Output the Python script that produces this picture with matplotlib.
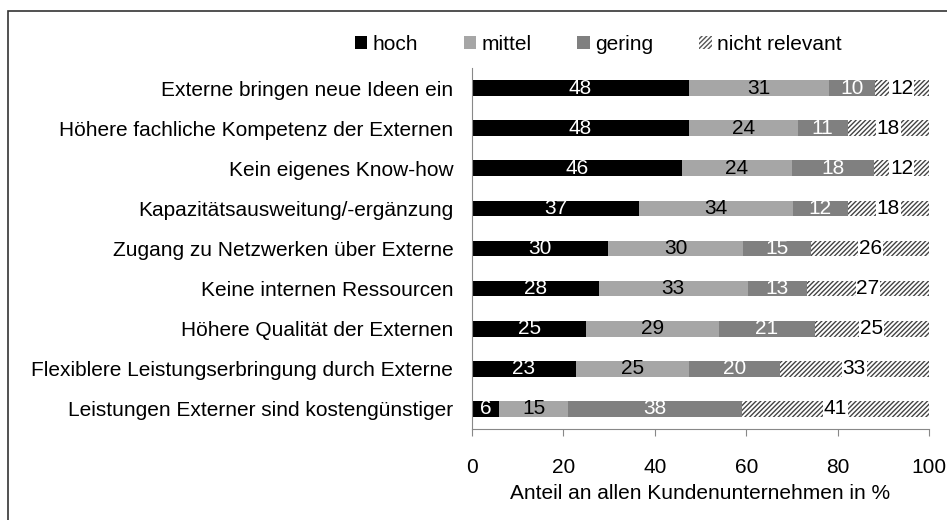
import matplotlib
matplotlib.use("Agg")
import matplotlib.pyplot as plt
from matplotlib.patches import Rectangle, Patch
import numpy as np

plt.rcParams["font.family"] = ["Liberation Sans", "DejaVu Sans"]
plt.rcParams["hatch.linewidth"] = 1.0
plt.rcParams["hatch.color"] = "#444444"

categories = [
    "Externe bringen neue Ideen ein",
    "Höhere fachliche Kompetenz der Externen",
    "Kein eigenes Know-how",
    "Kapazitätsausweitung/-ergänzung",
    "Zugang zu Netzwerken über Externe",
    "Keine internen Ressourcen",
    "Höhere Qualität der Externen",
    "Flexiblere Leistungserbringung durch Externe",
    "Leistungen Externer sind kostengünstiger",
]
hoch = [48, 48, 46, 37, 30, 28, 25, 23, 6]
mittel = [31, 24, 24, 34, 30, 33, 29, 25, 15]
gering = [10, 11, 18, 12, 15, 13, 21, 20, 38]
nicht_relevant = [12, 18, 12, 18, 26, 27, 25, 33, 41]

series = [
    ("hoch", hoch, "black", None, "white"),
    ("mittel", mittel, "#a6a6a6", None, "black"),
    ("gering", gering, "#808080", None, "white"),
    ("nicht relevant", nicht_relevant, "white", "///////", "black"),
]

raw = np.array([hoch, mittel, gering, nicht_relevant], dtype=float)
# Die Balken sind auf 100 % normiert (Rundungssummen liegen bei 101).
shares = raw / raw.sum(axis=0) * 100

FS = 15

fig = plt.figure(figsize=(9.47, 5.2), dpi=100)
ax = fig.add_axes([472 / 947, 1 - 429 / 520, 457 / 947, 361 / 520])

y = np.arange(len(categories))
left = np.zeros(len(categories))
for (name, vals, color, hatch, tcolor), width in zip(series, shares):
    ax.barh(y, width, left=left, height=0.39, color=color,
            hatch=hatch, edgecolor="#444444" if hatch else color,
            linewidth=0)
    for yi, (l, w, v) in enumerate(zip(left, width, vals)):
        kw = {}
        if hatch:
            kw["bbox"] = dict(facecolor="white", edgecolor="none", pad=0.6)
        ax.text(l + w / 2, yi, str(v), ha="center", va="center",
                color=tcolor, fontsize=FS, **kw)
    left += width

ax.set_xlim(0, 100)
ax.set_ylim(len(categories) - 0.5, -0.5)
ax.set_yticks(y)
ax.set_yticklabels(categories, fontsize=FS)
ax.tick_params(axis="y", length=0, pad=13.5)
ax.set_xticks([0, 20, 40, 60, 80, 100])
ax.tick_params(axis="x", direction="out", length=5, color="#888888",
               labelsize=FS, pad=16)
ax.set_xlabel("Anteil an allen Kundenunternehmen in %", fontsize=FS,
              labelpad=5)
for s in ["top", "right"]:
    ax.spines[s].set_visible(False)
ax.spines["left"].set_color("#888888")
ax.spines["bottom"].set_color("#888888")

handles = [Patch(facecolor=c, edgecolor="#555555" if h else c, hatch=h,
                 linewidth=0, label=n) for n, _, c, h, _ in series]
fig.legend(handles=handles, loc="center", bbox_to_anchor=(598 / 947, 1 - 44 / 520),
           ncol=4, frameon=False, fontsize=FS, handlelength=0.6,
           handleheight=0.6, handletextpad=0.25, columnspacing=2.2)

# Rahmen um die Grafik, rechts und unten abgeschnitten wie im Original.
fig.patches.append(Rectangle((8 / 947, -0.1), 1.2, 1.1 - 11 / 520,
                             transform=fig.transFigure, fill=False,
                             edgecolor="#333333", linewidth=1.2))

fig.savefig("out.png", dpi=100)
